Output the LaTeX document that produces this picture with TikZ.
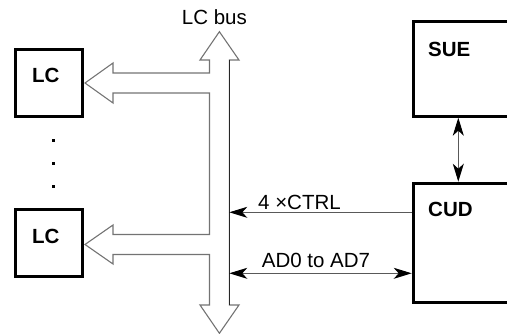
\documentclass[tikz,border=0pt]{standalone}
\usepackage{fontspec}
\setmainfont{Liberation Sans}
\usetikzlibrary{arrows.meta}
\tikzset{
  blk/.style={draw=black, line width=3pt, inner sep=0pt},
  lbl/.style={inner sep=0pt, anchor=base west, font=\fontsize{20.5}{24}\selectfont},
  blbl/.style={lbl, font=\fontsize{20.5}{24}\selectfont\bfseries},
  busline/.style={draw=black!55, line width=1.1pt, line join=miter},
  busedge/.style={draw=black!85, line width=1.1pt},
  conn/.style={draw=black!65, line width=1pt, arrows={Stealth[length=18pt,width=11pt,inset=5pt,black]-Stealth[length=18pt,width=11pt,inset=5pt,black]}},
  conn1/.style={draw=black!65, line width=1pt, arrows={-Stealth[length=18pt,width=11pt,inset=5pt,black]}},
}
\begin{document}
\begin{tikzpicture}[x=1pt,y=-1pt]
\clip (0,0) rectangle (507,334);
% LC boxes
\node[blk, minimum width=66.7pt, minimum height=67pt] (lc1) at (49.15,82.7) {};
\node[blk, minimum width=66.7pt, minimum height=67pt] (lc2) at (49.15,242.7) {};
\node[blbl] (lc1t) at (32,83) {LC};
\node[blbl] (lc2t) at (32,243.3) {LC};
% dots
\foreach \yy in {141,164,187} \fill (51.5,\yy-1.5) rectangle (54.5,\yy+1.5);
% SUE and CUD
\node[blk, minimum width=137pt, minimum height=94.7pt] (sue) at (481.7,68.85) {};
\node[blk, minimum width=137pt, minimum height=119.3pt] (cud) at (481.7,242.85) {};
\node[blbl] (suet) at (428,57) {SUE};
\node[blbl] (cudt) at (428,217) {CUD};
% bus hollow arrow
\path[busline] (219.4,31.7) -- (239,60) -- (229.3,60) -- (229.3,305) -- (239,305)
  -- (219.4,333.3) -- (200,305) -- (209.5,305) -- (209.5,254.5) -- (113,254.5)
  -- (113,264) -- (85,244.5) -- (113,225) -- (113,234.5) -- (209.5,234.5)
  -- (209.5,93) -- (113,93) -- (113,103) -- (85,83) -- (113,63) -- (113,73)
  -- (209.5,73) -- (209.5,60) -- (200,60) -- cycle;
\coordinate (bustop) at (229.3,60);
\coordinate (busbot) at (229.3,305);
\draw[busedge] (bustop) -- (busbot);
\node[lbl] (bust) at (181.7,25) {LC bus};
% connectors
\coordinate (ctrl) at (229.3,212.3);
\coordinate (ad) at (229.3,273.3);
\coordinate (sc) at (458.3,0);
\draw[conn1] (cud.west |- ctrl) -- (ctrl);
\draw[conn] (ad) -- (cud.west |- ad);
\draw[conn] (sue.south -| sc) -- (cud.north -| sc);
\node[lbl] (ctrlt) at (258,210) {4 ×CTRL};
\node[lbl] (adt) at (261.7,268) {AD0 to AD7};
\end{tikzpicture}
\end{document}
